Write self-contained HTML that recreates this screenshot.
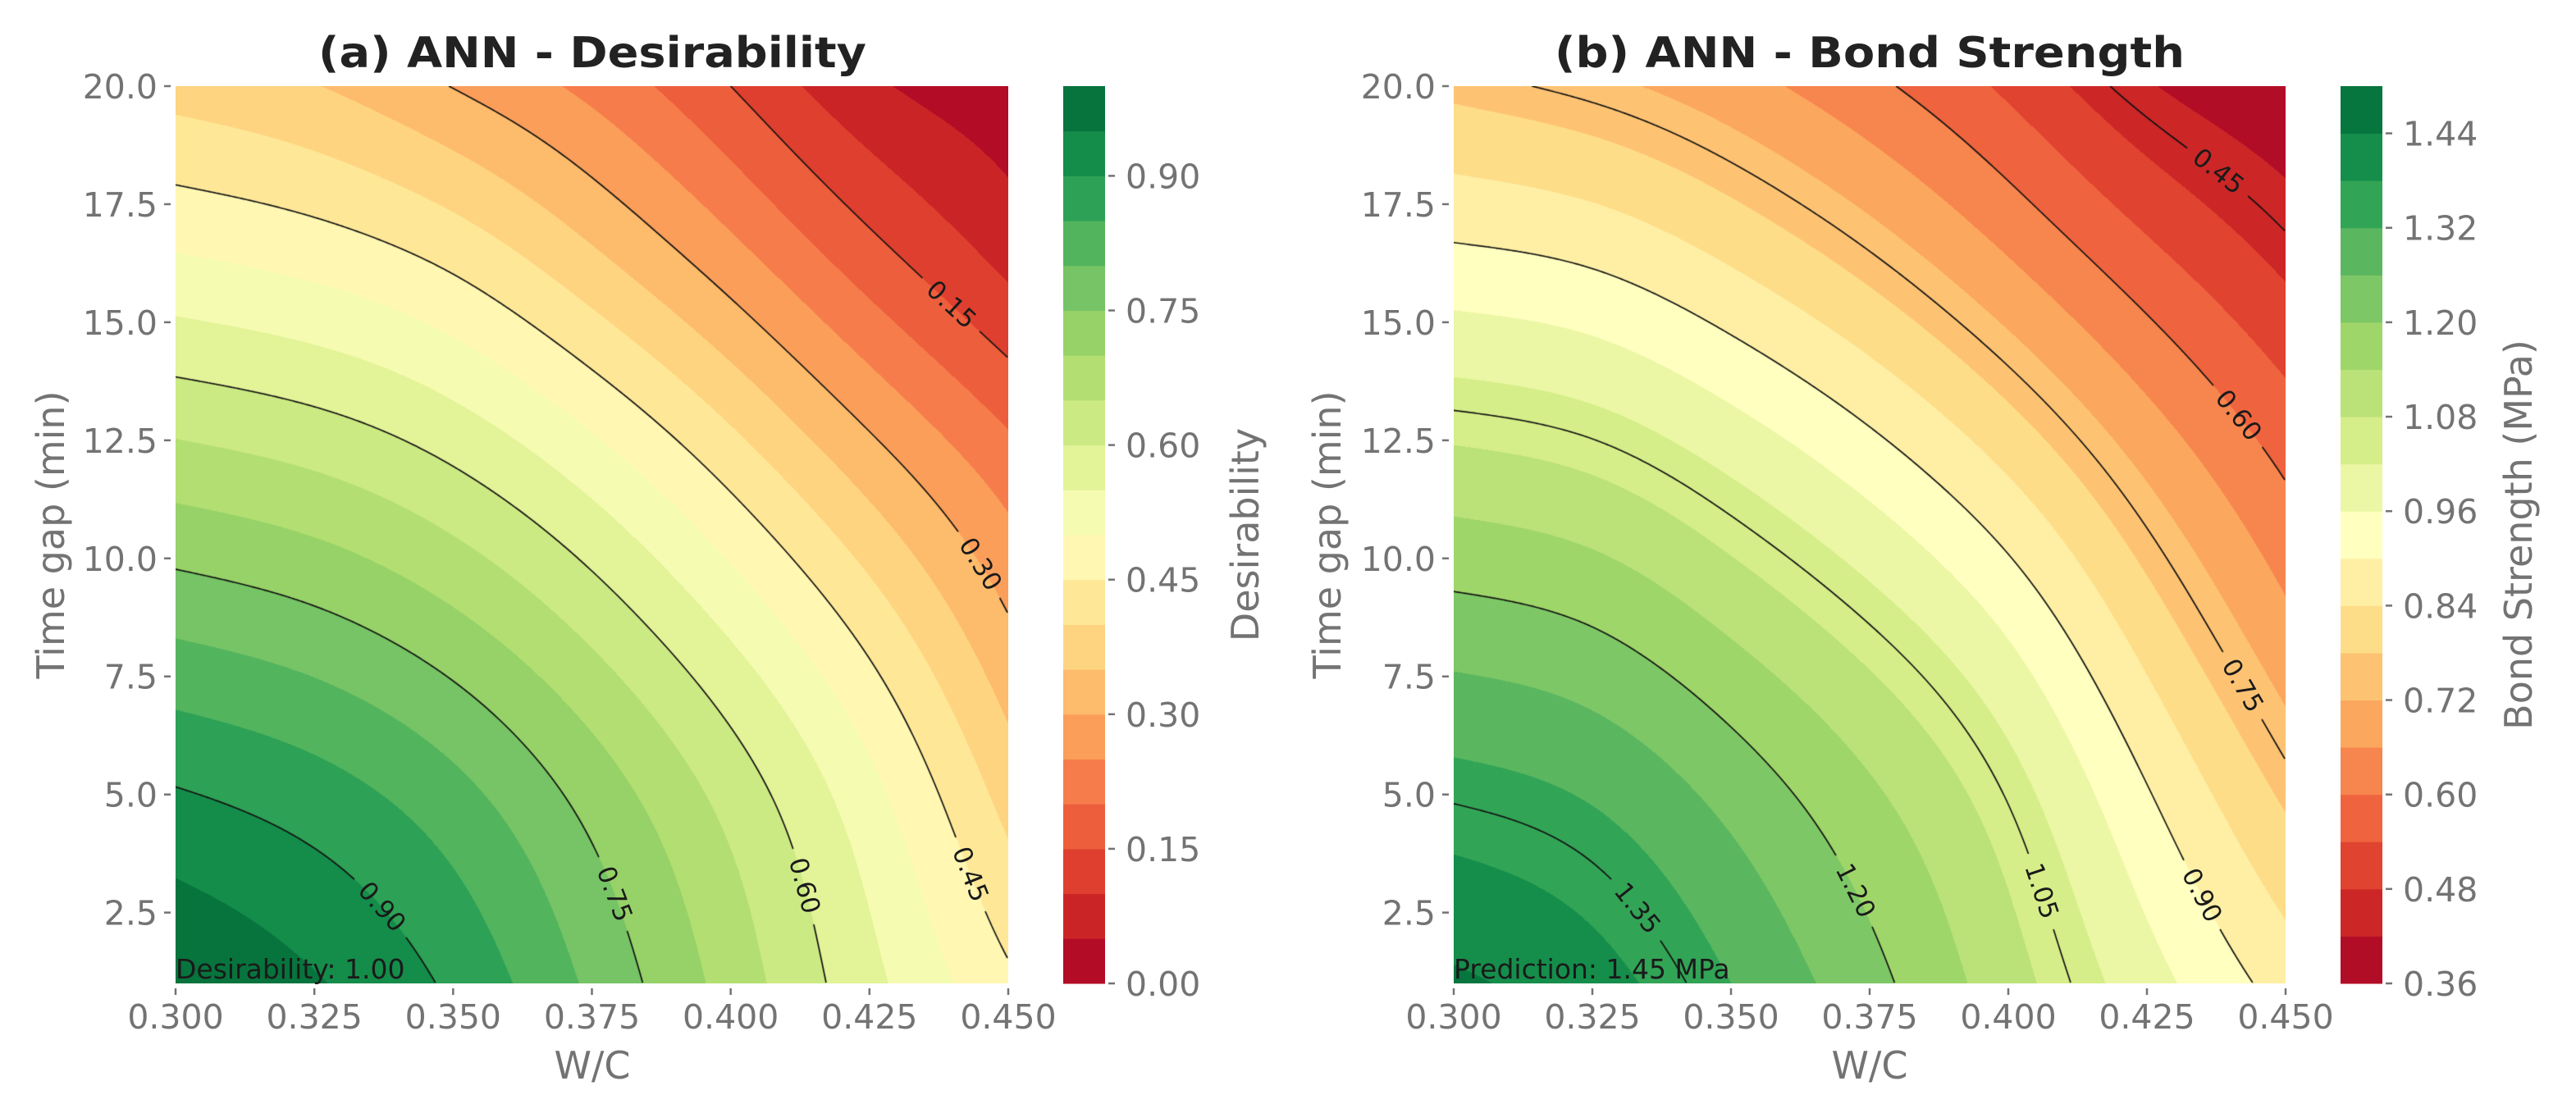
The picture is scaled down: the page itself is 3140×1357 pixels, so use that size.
<!DOCTYPE html>
<html><head><meta charset="utf-8">
<style>
html,body{margin:0;padding:0;background:#fff;}
#root{position:relative;width:3140px;height:1357px;overflow:hidden;background:#fff;}
canvas{position:absolute;}
svg{position:absolute;left:0;top:0;}
</style></head>
<body>
<div id="root">
<canvas id="cA" width="1015" height="1094" style="left:214px;top:105px;"></canvas>
<canvas id="cB" width="1014" height="1094" style="left:1772px;top:105px;"></canvas>
<svg id="ov" width="3140" height="1357"></svg>
</div>
<script>
// ---- data ----
const wcValues = [0.300, 0.325, 0.350, 0.375, 0.400, 0.425, 0.450];
const timeGapValues = [1, 4.8, 8.6, 12.4, 16.2, 20];
const desirabilityGrid = [
  [1.00, 0.955, 0.89, 0.79, 0.68, 0.565, 0.46],
  [0.91, 0.878, 0.822, 0.735, 0.635, 0.52, 0.385],
  [0.79, 0.763, 0.712, 0.635, 0.54, 0.43, 0.305],
  [0.655, 0.630, 0.584, 0.51, 0.415, 0.31, 0.21],
  [0.51, 0.487, 0.443, 0.366, 0.275, 0.176, 0.09],
  [0.38, 0.352, 0.298, 0.235, 0.15, 0.06, 0.02]
];
const bondGrid = [
  [1.45, 1.405, 1.32, 1.22, 1.105, 0.985, 0.875],
  [1.35, 1.319, 1.245, 1.155, 1.05, 0.91, 0.775],
  [1.225, 1.198, 1.13, 1.05, 0.95, 0.81, 0.675],
  [1.08, 1.055, 0.994, 0.915, 0.815, 0.695, 0.58],
  [0.92, 0.897, 0.839, 0.762, 0.667, 0.563, 0.47],
  [0.765, 0.735, 0.685, 0.615, 0.527, 0.426, 0.37]
];
const xTickLabels = ["0.300","0.325","0.350","0.375","0.400","0.425","0.450"];
const yTickLabels = ["2.5","5.0","7.5","10.0","12.5","15.0","17.5","20.0"];
const desLineLevels = [0.15, 0.30, 0.45, 0.60, 0.75, 0.90];
const desLabelAnchors = [[0.4396,15.34],[0.4406,9.56],[0.441,3.2],[0.410,2.95],[0.377,2.8],[0.336,2.5]];
const desCbarTicks = ["0.00","0.15","0.30","0.45","0.60","0.75","0.90"];
const bondLineLevels = [0.45, 0.60, 0.75, 0.90, 1.05, 1.20, 1.35];
const bondLabelAnchors = [[0.4395,18.42],[0.4398,12.87],[0.441,7.23],[0.4338,2.8],[0.4033,2.85],[0.3712,2.9],[0.3322,2.5]];
const bondCbarTicks = ["0.36","0.48","0.60","0.72","0.84","0.96","1.08","1.20","1.32","1.44"];

const NS = "http://www.w3.org/2000/svg";
const ov = document.getElementById('ov');
const GRAY = "#737373";
const FONT = '"DejaVu Sans","Liberation Sans",sans-serif';

const cmapStops = ["#a50026","#d73027","#f46d43","#fdae61","#fee08b","#ffffbf","#d9ef8b","#a6d96a","#66bd63","#1a9850","#006837"];
function hex(h){return [parseInt(h.substr(1,2),16),parseInt(h.substr(3,2),16),parseInt(h.substr(5,2),16)];}
const stopsRGB = cmapStops.map(hex);
function cmap(t){
  t=Math.max(0,Math.min(1,t))*10; let i=Math.min(9,Math.floor(t)); let f=t-i;
  const a=stopsRGB[i], b=stopsRGB[i+1];
  return [Math.round(a[0]+(b[0]-a[0])*f),Math.round(a[1]+(b[1]-a[1])*f),Math.round(a[2]+(b[2]-a[2])*f)];
}
function splineM(y){
  const n=y.length, M=new Array(n).fill(0);
  if(n<3) return M;
  const a=[],b=[],c=[],d=[];
  for(let i=1;i<n-1;i++){a.push(1);b.push(4);c.push(1);d.push(6*(y[i+1]-2*y[i]+y[i-1]));}
  const m=b.length;
  for(let i=1;i<m;i++){const w=a[i]/b[i-1];b[i]-=w*c[i-1];d[i]-=w*d[i-1];}
  const x=new Array(m);x[m-1]=d[m-1]/b[m-1];
  for(let i=m-2;i>=0;i--)x[i]=(d[i]-c[i]*x[i+1])/b[i];
  for(let i=0;i<m;i++)M[i+1]=x[i];
  return M;
}
function splineEval(y,M,t){
  const n=y.length;
  if(t<=0){const s=(y[1]-y[0])-(2*M[0]+M[1])/6;return y[0]+s*t;}
  if(t>=n-1){const s=(y[n-1]-y[n-2])+(M[n-2]+2*M[n-1])/6;return y[n-1]+s*(t-(n-1));}
  let i=Math.min(n-2,Math.floor(t)); const u=t-i, v=1-u;
  return M[i]*v*v*v/6+M[i+1]*u*u*u/6+(y[i]-M[i]/6)*v+(y[i+1]-M[i+1]/6)*u;
}
function buildField(grid,W,H){
  const rowsM=grid.map(r=>splineM(r));
  const F=new Float32Array(W*H);
  const dx=wcValues[1]-wcValues[0], dy=timeGapValues[1]-timeGapValues[0];
  for(let px=0;px<W;px++){
    const xv=0.3+(px+0.5)/W*0.15, tx=(xv-wcValues[0])/dx;
    const col=grid.map((r,k)=>splineEval(r,rowsM[k],tx));
    const cM=splineM(col);
    for(let py=0;py<H;py++){
      const yv=20-(py+0.5)/H*19, ty=(yv-timeGapValues[0])/dy;
      F[py*W+px]=splineEval(col,cM,ty);
    }
  }
  return F;
}

function el(tag,attrs,parent){const e=document.createElementNS(NS,tag);for(const k in attrs)e.setAttribute(k,attrs[k]);(parent||ov).appendChild(e);return e;}

function drawPanel(cfg){
  const cv=document.getElementById(cfg.canvas), ctx=cv.getContext('2d');
  const W=cv.width,H=cv.height;
  const xs=x=>(x-0.3)/0.15*W, ys=y=>(20-y)/19*H;
  const F=buildField(cfg.grid,W,H);
  const img=ctx.createImageData(W,H);
  const nb=cfg.nBands;
  const bandCols=[]; for(let i=0;i<nb;i++) bandCols.push(cmap((i+0.5)/nb));
  for(let p=0;p<W*H;p++){
    let idx=Math.floor((F[p]-cfg.lo)/cfg.step); idx=Math.max(0,Math.min(nb-1,idx));
    const c=bandCols[idx], o=p*4;
    img.data[o]=c[0];img.data[o+1]=c[1];img.data[o+2]=c[2];img.data[o+3]=255;
  }
  ctx.putImageData(img,0,0);
  const S=2;
  const val=(X,Y)=>F[Math.min(H-1,Y)*W+Math.min(W-1,X)];
  cfg.lineLevels.forEach((L,li)=>{
    const segs=[];
    for(let Y0=0;Y0<H-1;Y0+=S)for(let X0=0;X0<W-1;X0+=S){
      const X1=Math.min(W-1,X0+S),Y1=Math.min(H-1,Y0+S);
      const a=val(X0,Y0),b=val(X1,Y0),c=val(X1,Y1),d=val(X0,Y1);
      const pts=[];
      if((a-L)*(b-L)<0) pts.push([X0+(L-a)/(b-a)*(X1-X0),Y0]);
      if((b-L)*(c-L)<0) pts.push([X1,Y0+(L-b)/(c-b)*(Y1-Y0)]);
      if((d-L)*(c-L)<0) pts.push([X0+(L-d)/(c-d)*(X1-X0),Y1]);
      if((a-L)*(d-L)<0) pts.push([X0,Y0+(L-a)/(d-a)*(Y1-Y0)]);
      if(pts.length>=2) segs.push([pts[0],pts[1]]);
      if(pts.length===4) segs.push([pts[2],pts[3]]);
    }
    const an=cfg.anchors[li], ax=xs(an[0]), ay=ys(an[1]);
    let best=null,bd=1e18;
    segs.forEach(s=>{const mx=(s[0][0]+s[1][0])/2,my=(s[0][1]+s[1][1])/2;const dd=(mx-ax)**2+(my-ay)**2;if(dd<bd){bd=dd;best=s;}});
    let lx=ax,ly=ay,ang=0;
    if(best){lx=(best[0][0]+best[1][0])/2;ly=(best[0][1]+best[1][1])/2;
      let sx=0,sy=0;segs.forEach(s=>{const mx=(s[0][0]+s[1][0])/2,my=(s[0][1]+s[1][1])/2;
        if((mx-lx)**2+(my-ly)**2<900){let dx=s[1][0]-s[0][0],dy=s[1][1]-s[0][1];if(dx<0){dx=-dx;dy=-dy;}sx+=dx;sy+=dy;}});
      ang=Math.atan2(sy,sx)*180/Math.PI;}
    ctx.strokeStyle="#111";ctx.lineWidth=1.7;ctx.beginPath();
    const gap=48;
    segs.forEach(s=>{const mx=(s[0][0]+s[1][0])/2,my=(s[0][1]+s[1][1])/2;
      if((mx-lx)**2+(my-ly)**2<gap*gap) return;
      ctx.moveTo(s[0][0],s[0][1]);ctx.lineTo(s[1][0],s[1][1]);});
    ctx.stroke();
    const t=el('text',{x:cfg.left+lx,y:cfg.top+ly,'text-anchor':'middle','dominant-baseline':'central',
      'font-size':'31','font-family':FONT,fill:'#1a1a1a',transform:`rotate(${ang.toFixed(1)} ${cfg.left+lx} ${cfg.top+ly})`});
    
    
    t.textContent=L.toFixed(2);
  });
  const L0=cfg.left,T0=cfg.top;
  xTickLabels.forEach(lab=>{
    const x=L0+xs(parseFloat(lab));
    const tk=el('line',{x1:x,y1:T0+H+6,x2:x,y2:T0+H+14,stroke:GRAY,'stroke-width':2.5});
    
    const t=el('text',{x:x,y:T0+H+55,'text-anchor':'middle','font-size':'41','font-family':FONT,fill:GRAY});
    
    t.textContent=lab;
  });
  yTickLabels.forEach(lab=>{
    const y=T0+ys(parseFloat(lab));
    const tk=el('line',{x1:L0-14,y1:y,x2:L0-6,y2:y,stroke:GRAY,'stroke-width':2.5});
    
    const t=el('text',{x:L0-22,y:y+15,'text-anchor':'end','font-size':'41','font-family':FONT,fill:GRAY});
    
    t.textContent=lab;
  });
  const cbx=cfg.cbx, cbw=51, cbt=T0, cbh=H, top=cfg.lo+cfg.step*nb;
  const cy=v=>cbt+cbh-(v-cfg.lo)/(top-cfg.lo)*cbh;
  for(let i=0;i<nb;i++){
    const c=bandCols[i];
    const r=el('rect',{x:cbx,y:cy(cfg.lo+(i+1)*cfg.step),width:cbw,height:cy(cfg.lo+i*cfg.step)-cy(cfg.lo+(i+1)*cfg.step)+0.5,fill:`rgb(${c[0]},${c[1]},${c[2]})`});
    
  }
  cfg.cbTicks.forEach(lab=>{
    const y=cy(parseFloat(lab));
    const tk=el('line',{x1:cbx+cbw+4,y1:y,x2:cbx+cbw+12,y2:y,stroke:GRAY,'stroke-width':2.5});
    
    const t=el('text',{x:cbx+cbw+25,y:y+15,'font-size':'41','font-family':FONT,fill:GRAY});
    
    t.textContent=lab;
  });
}

drawPanel({canvas:'cA',grid:desirabilityGrid,lo:0,step:0.05,nBands:20,lineLevels:desLineLevels,anchors:desLabelAnchors,left:214,top:105,cbx:1296,cbTicks:desCbarTicks});
drawPanel({canvas:'cB',grid:bondGrid,lo:0.36,step:0.06,nBands:19,lineLevels:bondLineLevels,anchors:bondLabelAnchors,left:1772,top:105,cbx:2853,cbTicks:bondCbarTicks});
</script>
<svg width="3140" height="1357" style="position:absolute;left:0;top:0;pointer-events:none">
  <text x="722" y="82" text-anchor="middle" font-family="DejaVu Sans, Liberation Sans, sans-serif" font-weight="bold" font-size="52" fill="#222" textLength="668" lengthAdjust="spacingAndGlyphs">(a) ANN - Desirability</text>
  <text x="2279" y="82" text-anchor="middle" font-family="DejaVu Sans, Liberation Sans, sans-serif" font-weight="bold" font-size="52" fill="#222" textLength="768" lengthAdjust="spacingAndGlyphs">(b) ANN - Bond Strength</text>
  <text x="722" y="1315" text-anchor="middle" font-family="DejaVu Sans, Liberation Sans, sans-serif" font-size="46" fill="#737373">W/C</text>
  <text x="2279" y="1315" text-anchor="middle" font-family="DejaVu Sans, Liberation Sans, sans-serif" font-size="46" fill="#737373">W/C</text>
  <text x="0" y="0" transform="translate(78 652) rotate(-90)" text-anchor="middle" font-family="DejaVu Sans, Liberation Sans, sans-serif" font-size="46" fill="#737373">Time gap (min)</text>
  <text x="0" y="0" transform="translate(1634 652) rotate(-90)" text-anchor="middle" font-family="DejaVu Sans, Liberation Sans, sans-serif" font-size="46" fill="#737373">Time gap (min)</text>
  <text x="0" y="0" transform="translate(1534 652) rotate(-90)" text-anchor="middle" font-family="DejaVu Sans, Liberation Sans, sans-serif" font-size="46" fill="#737373">Desirability</text>
  <text x="0" y="0" transform="translate(3086 652) rotate(-90)" text-anchor="middle" font-family="DejaVu Sans, Liberation Sans, sans-serif" font-size="46" fill="#737373">Bond Strength (MPa)</text>
  <text x="214" y="1193" font-family="DejaVu Sans, Liberation Sans, sans-serif" font-size="33" fill="#1a1a1a">Desirability: 1.00</text>
  <text x="1772" y="1193" font-family="DejaVu Sans, Liberation Sans, sans-serif" font-size="33" fill="#1a1a1a">Prediction: 1.45 MPa</text>
</svg>
</body></html>
